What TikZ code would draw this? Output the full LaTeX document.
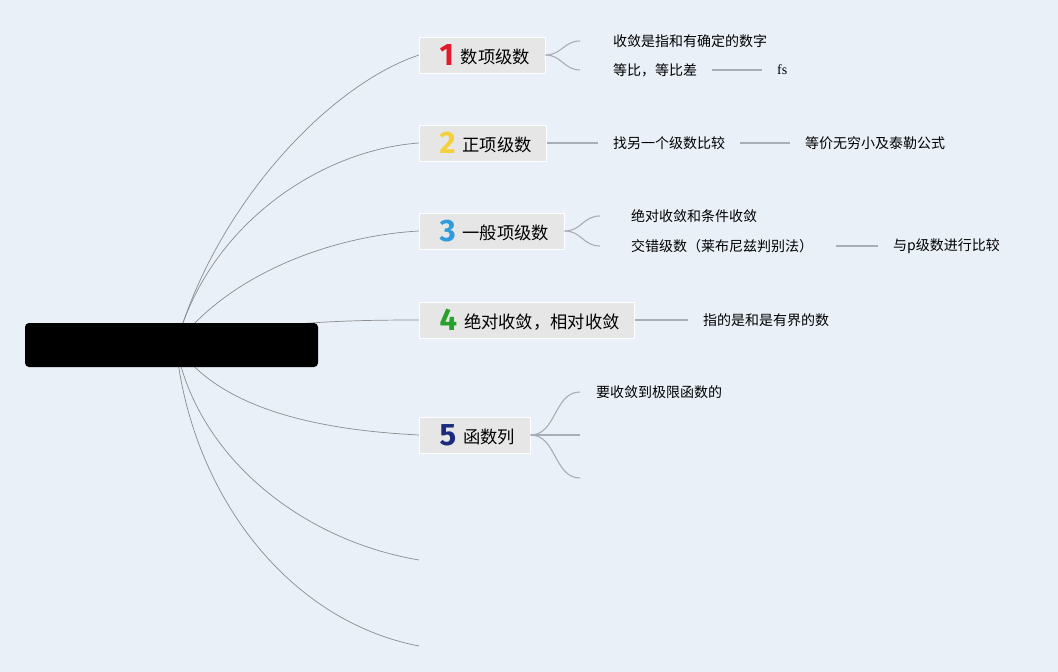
\documentclass[tikz,border=0pt]{standalone}
\usepackage{fontspec}
\setmainfont{Noto Sans CJK SC}
\newfontfamily\numfont{Fira Sans}
\newfontfamily\fsfont{Liberation Serif}
\usetikzlibrary{positioning,calc,backgrounds}
\definecolor{bgblue}{HTML}{E9F0F8}
\definecolor{topicgray}{HTML}{E6E6E6}
\definecolor{branchgray}{HTML}{8C8C8C}
\definecolor{leafgray}{HTML}{A9AEB4}
\definecolor{numred}{HTML}{E01B2C}
\definecolor{numyellow}{HTML}{F4D13A}
\definecolor{numblue}{HTML}{2E9CDC}
\definecolor{numgreen}{HTML}{27A12B}
\definecolor{numnavy}{HTML}{1C2A7E}
\def\topicgap{7pt}
\newcommand{\topicnum}[3]{\hspace{5pt}{\numfont\bfseries\fontsize{31}{31}\selectfont\color{#1}#2}\hspace{\topicgap}\raisebox{2pt}{#3}}

\begin{document}
\begin{tikzpicture}[x=1pt,y=-1pt,
    topic/.style={anchor=west,fill=topicgray,draw=white,line width=1pt,
      minimum height=36pt,inner xsep=15pt,inner ysep=0pt,
      font=\fontsize{17.3}{18}\selectfont},
    leaf/.style={anchor=west,inner sep=0pt,font=\fontsize{14}{14}\selectfont},
    branch/.style={draw=branchgray,line width=0.7pt},
    twig/.style={draw=leafgray,line width=1.1pt}]
  \useasboundingbox (0,0) rectangle (1058,672);
  \begin{pgfonlayer}{background}
    \fill[bgblue] (0,0) rectangle (1058,672);
  \end{pgfonlayer}

  % central topic
  \node[fill=black,rounded corners=4pt,minimum width=293pt,minimum height=44pt] (root) at (171.5,345) {};
  \coordinate (hub) at (176,345);

  % main topics
  \node[topic] (T1) at (419,55)  {\topicnum{numred}{1}{数项级数}};
  \node[topic] (T2) at (419,143) {\topicnum{numyellow}{2}{正项级数}};
  \node[topic] (T3) at (419,231) {\topicnum{numblue}{3}{一般项级数}};
  \node[topic] (T4) at (419,320) {\topicnum{numgreen}{4}{绝对收敛，相对收敛}};
  \node[topic] (T5) at (419,435) {\topicnum{numnavy}{5}{函数列}};
  \coordinate (E6) at (419,560);
  \coordinate (E7) at (419,646);

  % leaves
  \node[leaf] (L11) at (613,41)  {收敛是指和有确定的数字};
  \node[leaf] (L12) at (613,70)  {等比，等比差};
  \node[leaf,font=\fsfont\fontsize{14}{14}\selectfont] (L121) at (777,70) {fs};
  \node[leaf] (L21) at (613,143) {找另一个级数比较};
  \node[leaf] (L211) at (805,143) {等价无穷小及泰勒公式};
  \node[leaf] (L31) at (631,216) {绝对收敛和条件收敛};
  \node[leaf] (L32) at (631,246) {交错级数（莱布尼兹判别法）};
  \node[leaf] (L321) at (893,246) {与p级数进行比较};
  \node[leaf] (L41) at (703,320) {指的是和是有界的数};
  \node[leaf] (L51) at (596,392) {要收敛到极限函数的};
  \coordinate (E52) at (580,435);
  \coordinate (E53) at (580,478);

  \begin{pgfonlayer}{background}
    \draw[branch] (hub) .. controls (216,205) and (329,85)  .. (T1.west);
    \draw[branch] (hub) .. controls (208,225) and (320,150) .. (T2.west);
    \draw[branch] (hub) .. controls (228,275) and (330,236) .. (T3.west);
    \draw[branch] (hub) .. controls (260,322) and (340,320) .. (T4.west);
    \draw[branch] (hub) .. controls (220,410) and (320,430) .. (T5.west);
    \draw[branch] (hub) .. controls (196,455) and (300,540) .. (E6);
    \draw[branch] (hub) .. controls (190,490) and (285,620) .. (E7);
  \end{pgfonlayer}

  \draw[twig] (T1.east) .. controls ($(T1.east)+(16,0)$) and ($(L11.west)+(-49,0)$) .. ($(L11.west)+(-33,0)$);
  \draw[twig] (T1.east) .. controls ($(T1.east)+(16,0)$) and ($(L12.west)+(-49,0)$) .. ($(L12.west)+(-33,0)$);
  \draw[twig] ($(L12.east)+(15,0)$) -- ($(L121.west)+(-15,0)$);
  \draw[twig] (T2.east) -- ($(L21.west)+(-15,0)$);
  \draw[twig] ($(L21.east)+(15,0)$) -- ($(L211.west)+(-15,0)$);
  \draw[twig] (T3.east) .. controls ($(T3.east)+(17,0)$) and ($(L31.west)+(-48,0)$) .. ($(L31.west)+(-31,0)$);
  \draw[twig] (T3.east) .. controls ($(T3.east)+(17,0)$) and ($(L32.west)+(-48,0)$) .. ($(L32.west)+(-31,0)$);
  \draw[twig] ($(L32.east)+(23,0)$) -- ($(L321.west)+(-15,0)$);
  \draw[twig] (T4.east) -- ($(L41.west)+(-15,0)$);
  \draw[twig] (T5.east) .. controls ($(T5.east)+(26,0)$) and ($(L51.west)+(-42,0)$) .. ($(L51.west)+(-16,0)$);
  \draw[twig] (T5.east) -- (E52);
  \draw[twig] (T5.east) .. controls ($(T5.east)+(26,0)$) and ($(E53)+(-26,0)$) .. (E53);
\end{tikzpicture}
\end{document}
